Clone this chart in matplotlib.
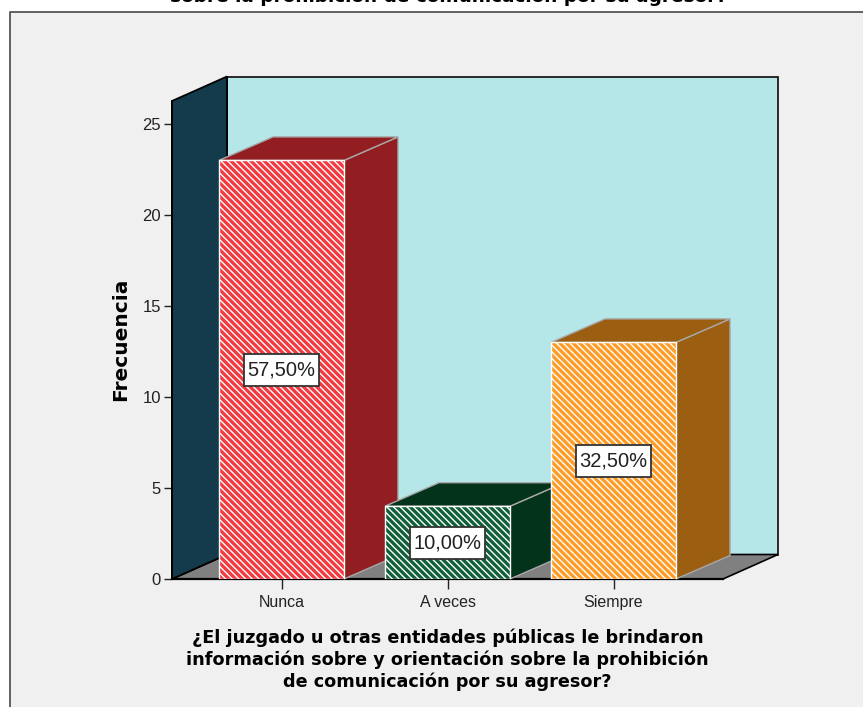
import matplotlib
matplotlib.use("Agg")
import matplotlib.pyplot as plt
from matplotlib.patches import Rectangle
from matplotlib.lines import Line2D

categories = ["Nunca", "A veces", "Siempre"]
frecuencia = [23, 4, 13]
porcentajes = ["57,50%", "10,00%", "32,50%"]
y_ticks = [0, 5, 10, 15, 20, 25]
front_colors = ["#f23a40", "#11603a", "#ff9c28"]
side_colors = ["#931e22", "#04331c", "#9c5e10"]
titulo = "sobre la prohibición de comunicación por su agresor?"
xlabel = ("¿El juzgado u otras entidades públicas le brindaron\n"
          "información sobre y orientación sobre la prohibición\n"
          "de comunicación por su agresor?")
ylabel = "Frecuencia"

W, H = 863, 707
SANS = ["Liberation Sans", "DejaVu Sans"]
BOLD = ["DejaVu Sans"]
plt.rcParams["hatch.linewidth"] = 1.0

fig = plt.figure(figsize=(W / 100, H / 100), dpi=100, facecolor="white")
def fx(x): return x / W
def fy(y): return 1 - y / H

# panel background and frame
fig.add_artist(Rectangle((fx(9), 0), 1 - fx(9), fy(12), transform=fig.transFigure,
                         facecolor="#f0f0f0", edgecolor="none", zorder=-5))
fig.add_artist(Line2D([fx(9.5), fx(9.5), 1], [0, fy(12), fy(12)], transform=fig.transFigure,
                      color="#555555", lw=1.3, zorder=-4))

L, R, T, B = 172, 723, 101, 579
C0 = 281.5
ax = fig.add_axes([fx(L), fy(B), (R - L) / W, (B - T) / H])
ax.patch.set_visible(False)
UX = 166.0   # px per category
UY = 18.2    # px per frequency unit
ax.set_xlim(-(C0 - L) / UX, (R - C0) / UX)
ax.set_ylim(0, (B - T) / UY)
x0, x1 = ax.get_xlim()
y0, y1 = ax.get_ylim()
DX, DY = 55 / UX, 24.5 / UY    # wall depth
BX, BY = 54 / UX, 23.5 / UY    # bar depth
BAR_W = 125 / UX
BOX_W, BOX_H = 75 / UX, 32 / UY

# walls
ax.fill([x0 + DX, x1 + DX, x1 + DX, x0 + DX], [y0 + DY, y0 + DY, y1 + DY, y1 + DY],
        facecolor="#b5e7e8", edgecolor="#1a1a1a", lw=1.3, clip_on=False, zorder=1)
ax.fill([x0, x0 + DX, x1 + DX, x1], [y0, y0 + DY, y0 + DY, y0],
        facecolor="#808080", edgecolor="black", lw=1.2, clip_on=False, zorder=1)
ax.fill([x0, x0 + DX, x0 + DX, x0], [y0, y0 + DY, y1 + DY, y1],
        facecolor="#133b4b", edgecolor="black", lw=1.3, clip_on=False, zorder=1.1)

# bars
for i, (v, fc, sc, p) in enumerate(zip(frecuencia, front_colors, side_colors, porcentajes)):
    z = 3 + i
    xl, xr = i - BAR_W / 2, i + BAR_W / 2
    ax.fill([xr, xr + BX, xr + BX, xr], [0, BY, v + BY, v], facecolor=sc,
            edgecolor="#a8a8a8", lw=1, clip_on=False, zorder=z)
    ax.fill([xl, xl + BX, xr + BX, xr], [v, v + BY, v + BY, v], facecolor=sc,
            edgecolor="#a8a8a8", lw=1, clip_on=False, zorder=z)
    ax.bar(i, v, width=BAR_W, color=fc, edgecolor="white", hatch="\\" * 5, lw=1, zorder=z + 0.1)
    ax.add_patch(Rectangle((i - BOX_W / 2, v / 2 - BOX_H / 2), BOX_W, BOX_H, facecolor="white",
                           edgecolor="#333333", lw=1.3, zorder=10))
    ax.text(i, v / 2, p, ha="center", va="center", fontsize=14.5, family=SANS, color="#222222",
            zorder=11)

# axes
for s in ("top", "right"):
    ax.spines[s].set_visible(False)
ax.spines["left"].set_color("black")
ax.spines["bottom"].set_color("black")
ax.spines["bottom"].set_zorder(2)
ax.spines["left"].set_zorder(2)
ax.spines["left"].set_linewidth(1.3)
ax.spines["bottom"].set_linewidth(1.6)
ax.set_xticks(range(len(categories)), categories)
ax.set_yticks(y_ticks)
ax.tick_params(axis="x", length=7, width=1, color="#222222", labelsize=11.5, labelcolor="#222222", pad=4.5)
ax.tick_params(axis="y", length=6, width=1, color="#222222", labelsize=12, labelcolor="#222222", pad=2)
for t in ax.get_xticklabels() + ax.get_yticklabels():
    t.set_family(SANS)

fig.text(fx(121), fy(339), ylabel, rotation=90, ha="center", va="center",
         fontsize=14.5, fontweight="bold", family=BOLD, color="black")
fig.text(fx(447.5), fy(659.5), xlabel, ha="center", va="center", linespacing=1.25,
         fontsize=12.7, fontweight="bold", family=BOLD, color="black")
fig.text(fx(449), fy(2.5), titulo, ha="center", va="baseline",
         fontsize=13.3, fontweight="bold", family=BOLD, color="black")

fig.savefig("out.png", dpi=100, facecolor="white")
